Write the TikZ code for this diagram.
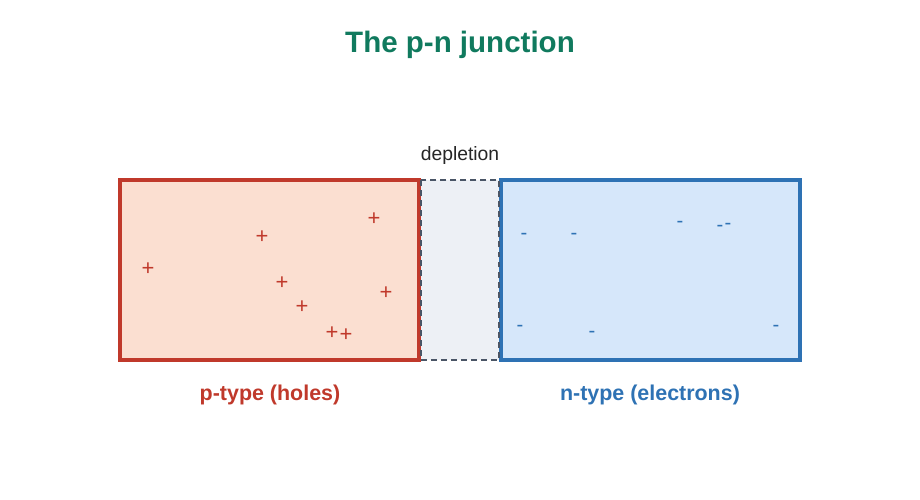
\documentclass[tikz,border=0pt]{standalone}
\usepackage{fontspec}
\setmainfont{Liberation Sans}
\usetikzlibrary{positioning}
\definecolor{junctiongreen}{RGB}{16,122,94}
\definecolor{ptypered}{RGB}{192,57,43}
\definecolor{ptypefill}{RGB}{251,223,209}
\definecolor{ntypeblue}{RGB}{46,114,180}
\definecolor{ntypefill}{RGB}{214,231,250}
\definecolor{depletionfill}{RGB}{237,240,245}
\definecolor{depletiongray}{RGB}{74,85,102}

\begin{document}
\begin{tikzpicture}[x=0.02cm,y=-0.02cm,line join=miter,
 hole/.style={ptypered,inner sep=0pt,yshift=-0.8pt,font=\fontsize{12.5}{13}\selectfont},
 electron/.style={ntypeblue,inner sep=0pt,yshift=-1.1pt,font=\fontsize{11.5}{12}\selectfont},
 caption/.style={font=\fontsize{12.2}{14}\selectfont\bfseries,anchor=base}]
 \useasboundingbox[fill=white] (0,0) rectangle (920,500);
 \coordinate (pNW) at (120,180);
 \coordinate (pSE) at (419,360);
 \coordinate (dNW) at (421,180);
 \coordinate (dSE) at (499,360);
 \coordinate (nNW) at (501,180);
 \coordinate (nSE) at (800,360);
 % p and n sides
 \fill[depletionfill] (pSE) rectangle (nNW);
 \draw[ptypered,fill=ptypefill,line width=1.75pt] (pNW) rectangle (pSE);
 \draw[ntypeblue,fill=ntypefill,line width=1.75pt] (nNW) rectangle (nSE);
 % depletion region
 \draw[depletiongray,line width=1.2pt,dash pattern=on 3.4pt off 2.3pt] (dNW) rectangle (dSE);
 \foreach \x/\y [count=\i] in {148/268,262/236,374/218,282/282,386/292,302/306,332/332,346/334}
  \node[hole] (h\i) at (\x,\y) {+};
 \foreach \x/\y [count=\i] in {524/234,574/234,680/222,720/226,728/224,520/326,592/332,776/326}
  \node[electron] (e\i) at (\x,\y) {-};
 \node[junctiongreen,anchor=base,font=\fontsize{16.8}{18}\selectfont\bfseries] (title) at (460,53) {The p-n junction};
 \node[anchor=base,text=black!85,font=\fontsize{11}{13}\selectfont] (deplabel) at (460,160) {depletion};
 \node[caption,ptypered] (plabel) at (270,400) {p-type (holes)};
 \node[caption,ntypeblue] (nlabel) at (650,400) {n-type (electrons)};
\end{tikzpicture}
\end{document}
